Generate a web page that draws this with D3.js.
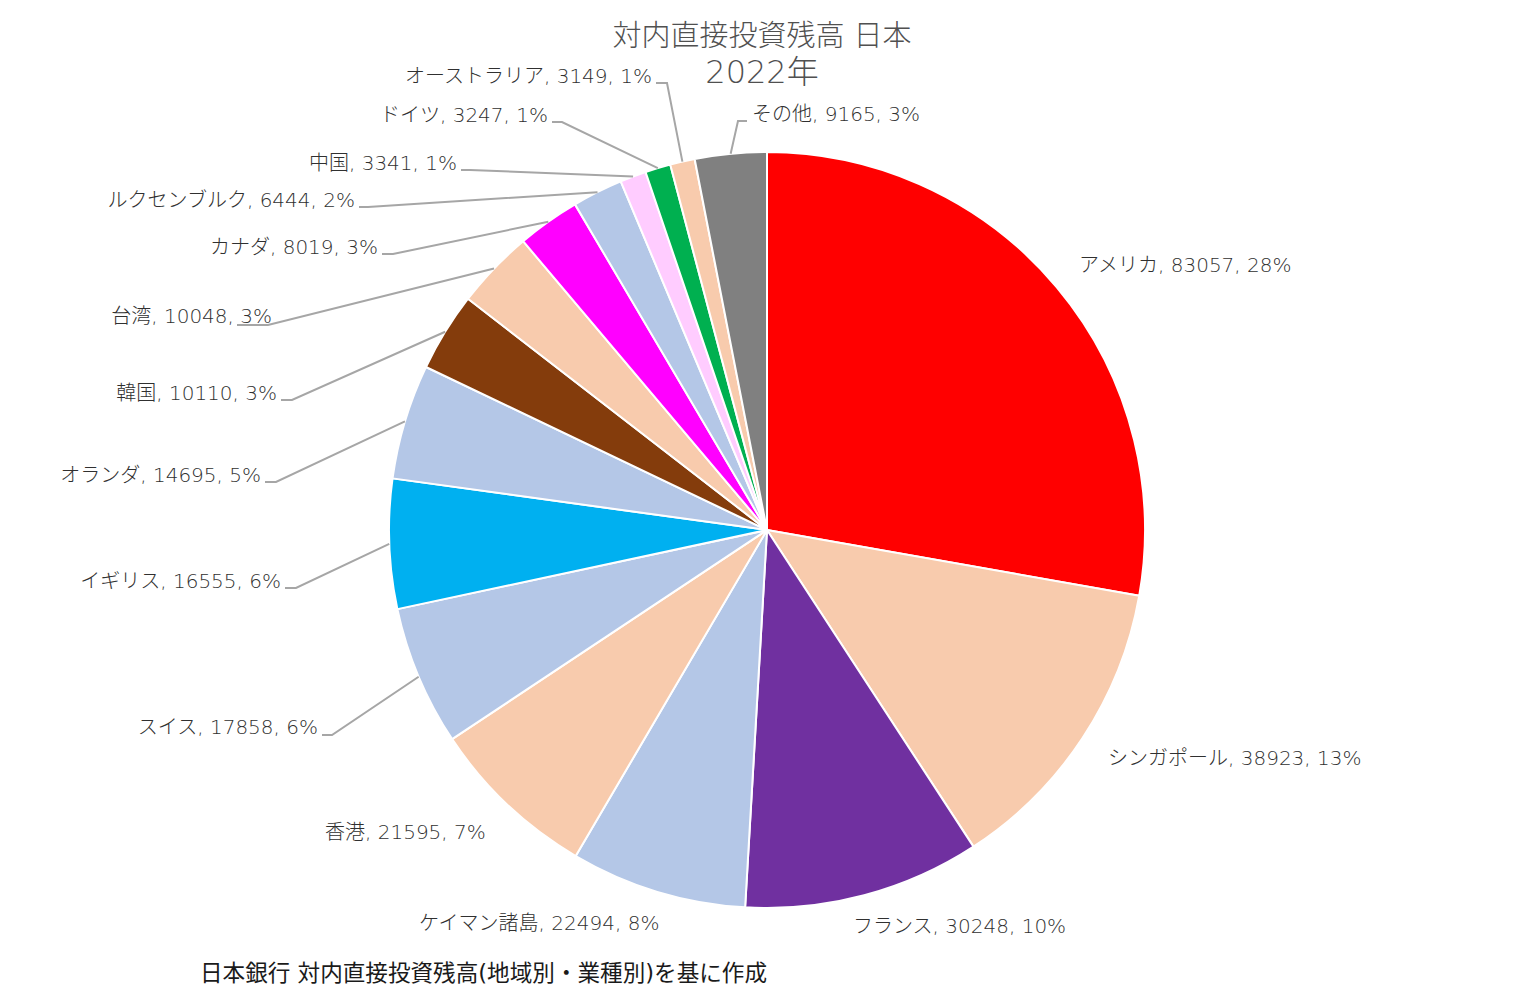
<!DOCTYPE html>
<html><head><meta charset="utf-8">
<script src="https://cdn.jsdelivr.net/npm/d3@7"></script>
<style>
html,body{margin:0;padding:0;background:#fff;}
svg{display:block;}
text{font-family:"DejaVu Sans","Noto Sans CJK JP",sans-serif;}
</style></head>
<body>
<script>
// ---- data ----
const categories = ["アメリカ","シンガポール","フランス","ケイマン諸島","香港","スイス","イギリス","オランダ","韓国","台湾","カナダ","ルクセンブルク","中国","ドイツ","オーストラリア","その他"];
const values = [83057,38923,30248,22494,21595,17858,16555,14695,10110,10048,8019,6444,3341,3247,3149,9165];
const percents = ["28%","13%","10%","8%","7%","6%","6%","5%","3%","3%","3%","2%","1%","1%","1%","3%"];
const colors = ["#FF0000","#F8CBAD","#7030A0","#B4C7E7","#F8CBAD","#B4C7E7","#00B0F0","#B4C7E7","#843C0C","#F8CBAD","#FF00FF","#B4C7E7","#FFCCFF","#00B050","#F8CBAD","#808080"];
const titleLines = ["対内直接投資残高 日本","2022年"];
const footnote = "日本銀行 対内直接投資残高(地域別・業種別)を基に作成";

// ---- layout (label placement) ----
const W = 1524, H = 996, cx = 767, cy = 530, R = 378;
// [anchor, textX, textY, leader: elbowX, elbowY, tailX] (null = no leader)
const labelLayout = [
  ["start",1079,265,null],
  ["start",1108,758,null],
  ["start",853,926,null],
  ["start",419,923,null],
  ["start",325,832,null],
  ["end",318,727,[332,735,322]],
  ["end",281,581,[296,588,285]],
  ["end",261,475,[276,482,265]],
  ["end",277,393,[292,400,281]],
  ["end",272,316,[268,325,237]],
  ["end",378,247,[393,254,382]],
  ["end",355,200,[368,207,359]],
  ["end",457,163,[470,170,461]],
  ["end",548,115,[562,122,552]],
  ["end",652,76,[667,83,656]],
  ["start",752,114,[738,121,747]]
];

const svg = d3.select("body").append("svg").attr("width",W).attr("height",H);

const data = categories.map((c,i)=>({name:c,value:values[i],pct:percents[i],color:colors[i],i}));
const pie = d3.pie().value(d=>d.value).sort(null);
const arcs = pie(data);
const arc = d3.arc().innerRadius(0).outerRadius(R);

const g = svg.append("g").attr("transform",`translate(${cx},${cy})`);
g.selectAll("path").data(arcs).join("path")
  .attr("d",arc).attr("fill",d=>d.data.color)
  .attr("stroke","#fff").attr("stroke-width",2).attr("stroke-linejoin","round");

// leader lines
const edge = d3.arc().innerRadius(R).outerRadius(R);
arcs.forEach((a,i)=>{
  const L = labelLayout[i];
  if(!L[3]) return;
  const p = edge.centroid(a);
  const [ex,ey,tx] = L[3];
  svg.append("polyline")
    .attr("points",`${cx+p[0]},${cy+p[1]} ${ex},${ey} ${tx},${ey}`)
    .attr("fill","none").attr("stroke","#A6A6A6").attr("stroke-width",2);
});

// labels
arcs.forEach((a,i)=>{
  const L = labelLayout[i];
  svg.append("text")
    .attr("x",L[1]).attr("y",L[2])
    .attr("text-anchor",L[0]).attr("dominant-baseline","central")
    .attr("font-size",20).attr("font-weight",200).attr("fill","#303030")
    .text(`${a.data.name}, ${d3.format("d")(a.data.value)}, ${a.data.pct}`);
});

// title
titleLines.forEach((t,i)=>{
  svg.append("text").attr("x",762).attr("y",36+i*36)
    .attr("text-anchor","middle").attr("dominant-baseline","central")
    .attr("font-size",i===0?29:32).attr("font-weight",200).attr("fill","#505050").text(t);
});

// footnote
svg.append("text").attr("x",200).attr("y",973)
  .attr("dominant-baseline","central")
  .attr("font-size",22.6).attr("fill","#1a1a1a").text(footnote);
</script>
</body></html>
